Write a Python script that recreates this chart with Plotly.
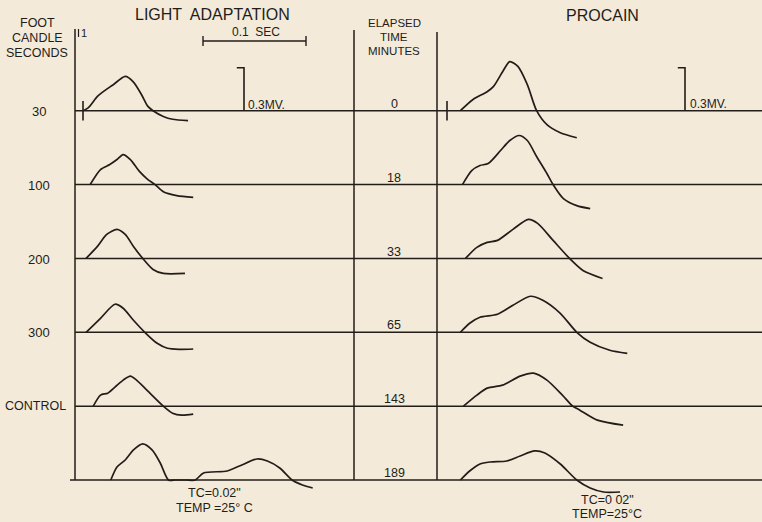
import plotly.graph_objects as go

# ---------------- data ----------------
# Row labels
fc_labels = ["30", "100", "200", "300", "CONTROL", ""]
elapsed_minutes = ["0", "18", "33", "65", "143", "189"]

# LIGHT ADAPTATION traces: time in ms after stimulus, potential in mV above baseline
la_30_t = [0, 5, 14, 19, 29, 41, 49, 57, 63, 68, 78, 87, 102]
la_30_v = [0, 0.02, 0.10, 0.13, 0.18, 0.24, 0.20, 0.11, 0.03, 0, -0.04, -0.06, -0.07]
la_100_t = [7, 17, 26, 33, 39, 46, 55, 63, 70, 78, 91, 107]
la_100_v = [0, 0.105, 0.14, 0.175, 0.21, 0.175, 0.09, 0.035, 0, -0.05, -0.077, -0.09]
la_200_t = [3, 14, 23, 33, 41, 49, 58, 68, 78, 99]
la_200_v = [0, 0.084, 0.168, 0.203, 0.168, 0.084, 0, -0.077, -0.105, -0.105]
la_300_t = [3, 17, 31, 39, 49, 60, 72, 82, 94, 107]
la_300_v = [0, 0.098, 0.196, 0.168, 0.084, 0, -0.077, -0.112, -0.119, -0.117]
la_ctrl_t = [10, 17, 24, 31, 39, 46, 52, 62, 78, 87, 96, 107]
la_ctrl_v = [0, 0.077, 0.091, 0.133, 0.182, 0.21, 0.182, 0.112, 0, -0.049, -0.063, -0.056]
la_last_t = [27, 33, 41, 49, 58, 67, 75, 83, 90, 100, 109, 117, 140, 152, 169, 179, 191, 203, 213, 223]
la_last_v = [0, 0.091, 0.14, 0.21, 0.252, 0.21, 0.119, 0, 0, 0, 0, 0.049, 0.063, 0.098, 0.147, 0.133, 0.084, 0, -0.035, -0.056]

# PROCAIN traces
pr_0_t = [13, 25, 39, 45, 54, 61, 69, 78, 87, 97, 110, 126]
pr_0_v = [0, 0.077, 0.133, 0.168, 0.273, 0.343, 0.308, 0.182, 0, -0.098, -0.154, -0.189]
pr_18_t = [15, 24, 32, 40, 52, 61, 70, 78, 87, 97, 103, 113, 126, 139]
pr_18_v = [0, 0.098, 0.133, 0.147, 0.238, 0.308, 0.343, 0.308, 0.196, 0.077, 0, -0.098, -0.147, -0.168]
pr_33_t = [18, 29, 39, 49, 64, 79, 88, 103, 119, 132, 151]
pr_33_v = [0, 0.077, 0.112, 0.126, 0.203, 0.273, 0.245, 0.126, 0, -0.084, -0.14]
pr_65_t = [13, 22, 32, 49, 64, 81, 93, 110, 126, 139, 158, 175]
pr_65_v = [0, 0.063, 0.105, 0.126, 0.189, 0.252, 0.224, 0.133, 0, -0.07, -0.126, -0.147]
pr_143_t = [16, 29, 39, 54, 71, 84, 97, 112, 122, 129, 146, 171]
pr_143_v = [0, 0.077, 0.126, 0.147, 0.21, 0.231, 0.182, 0.077, 0, -0.028, -0.098, -0.133]
pr_189_t = [13, 22, 32, 42, 58, 71, 85, 95, 110, 126, 139, 152, 168]
pr_189_v = [0, 0.063, 0.112, 0.126, 0.133, 0.168, 0.203, 0.189, 0.112, 0, -0.056, -0.084, -0.084]

# calibration
time_bar_ms = 100      # 0.1 SEC
volt_bar_mv = 0.3      # 0.3 MV.

# ---------------- layout constants ----------------
W, H = 762, 522
PX_PER_MS = 1.03
PX_PER_MV = 143.0
ORIGIN_L_PX = 83          # stimulus of the left panel
ORIGIN_R_PX = 447         # stimulus of the right panel
BOTTOM_BASE_PX = 480
ROW_GAP_MV = 0.5165
RIGHT_OFFSET = (ORIGIN_R_PX - ORIGIN_L_PX) / PX_PER_MS

INK = "#231d19"
BG = "#f4ead9"
FONT = "Liberation Sans"

def xpx(px):
    return (px - ORIGIN_L_PX) / PX_PER_MS

def ypx(py):
    return (BOTTOM_BASE_PX - py) / PX_PER_MV

def row_base(i):
    return (5 - i) * ROW_GAP_MV

left_traces = [(la_30_t, la_30_v), (la_100_t, la_100_v), (la_200_t, la_200_v),
               (la_300_t, la_300_v), (la_ctrl_t, la_ctrl_v), (la_last_t, la_last_v)]
right_traces = [(pr_0_t, pr_0_v), (pr_18_t, pr_18_v), (pr_33_t, pr_33_v),
                (pr_65_t, pr_65_v), (pr_143_t, pr_143_v), (pr_189_t, pr_189_v)]

fig = go.Figure()

line_style = dict(color=INK, width=1.7, shape="spline", smoothing=0.75)

for i, (t, v) in enumerate(left_traces):
    b = row_base(i)
    fig.add_trace(go.Scatter(x=t, y=[b + val for val in v], mode="lines",
                             line=line_style, hoverinfo="skip"))
for i, (t, v) in enumerate(right_traces):
    b = row_base(i)
    fig.add_trace(go.Scatter(x=[RIGHT_OFFSET + tt for tt in t], y=[b + val for val in v],
                             mode="lines", line=line_style, hoverinfo="skip"))

# stimulus ticks on the top row
fig.add_trace(go.Scatter(x=[0, RIGHT_OFFSET], y=[row_base(0), row_base(0)], mode="markers",
                         marker=dict(symbol="line-ns", size=14, line=dict(color=INK, width=1.6)),
                         hoverinfo="skip"))

# time calibration bar
tb_x0 = xpx(203)
tb_y = ypx(41)
fig.add_trace(go.Scatter(x=[tb_x0, tb_x0 + time_bar_ms], y=[tb_y, tb_y], mode="lines+markers",
                         line=dict(color=INK, width=1.4),
                         marker=dict(symbol="line-ns", size=7, line=dict(color=INK, width=1.4)),
                         hoverinfo="skip"))

# voltage calibration bars
for xb in (xpx(244), xpx(685)):
    y0 = row_base(0)
    fig.add_trace(go.Scatter(x=[xb - 7, xb, xb], y=[y0 + volt_bar_mv, y0 + volt_bar_mv, y0],
                             mode="lines", line=dict(color=INK, width=1.6), hoverinfo="skip"))

# ---------------- frame lines ----------------
shapes = []
for i in range(6):
    b = row_base(i)
    x0 = xpx(70) if i == 5 else xpx(75)
    shapes.append(dict(type="line", x0=x0, x1=xpx(762), y0=b, y1=b,
                       line=dict(color=INK, width=1.5)))
for px, top in ((75, 29), (354, 30), (437, 32)):
    shapes.append(dict(type="line", x0=xpx(px), x1=xpx(px), y0=ypx(top), y1=row_base(5),
                       line=dict(color=INK, width=1.5)))
shapes.append(dict(type="line", x0=xpx(78.5), x1=xpx(78.5), y0=ypx(29), y1=ypx(37),
                   line=dict(color=INK, width=1.2)))

# ---------------- text ----------------
ann = []
def txt(px, py, s, size, anchor="center", yanchor="middle"):
    ann.append(dict(x=px / W, y=1 - py / H, xref="paper", yref="paper", text=s,
                    showarrow=False, xanchor=anchor, yanchor=yanchor,
                    font=dict(family=FONT, size=size, color=INK)))

txt(212, 14, "LIGHT  ADAPTATION", 16)
txt(602, 15, "PROCAIN", 16)
txt(37, 23, "FOOT", 12.5)
txt(37, 38, "CANDLE", 12.5)
txt(37, 53, "SECONDS", 12.5)
txt(394, 23, "ELAPSED", 11.5)
txt(394, 37, "TIME", 11.5)
txt(394, 51, "MINUTES", 11.5)
txt(256, 32, "0.1  SEC", 12)
txt(84, 33, "1", 11)
txt(246, 105, "0.3MV.", 12, anchor="left")
txt(688, 104, "0.3MV.", 12, anchor="left")

base_px = [111, 185, 259, 332, 406, 480]
for i, lab in enumerate(fc_labels):
    if lab:
        if lab == "CONTROL":
            txt(68, base_px[i], lab, 12.5, anchor="right")
        else:
            txt(39, base_px[i], lab, 13)
for i, lab in enumerate(elapsed_minutes):
    txt(394, base_px[i] - 7, lab, 12.5)

txt(214, 493, "TC=0.02\"", 12.5)
txt(214, 508, "TEMP =25° C", 12.5)
txt(607, 500, "TC=0 02\"", 12.5)
txt(607, 514, "TEMP=25°C", 12.5)

fig.update_layout(
    width=W, height=H, margin=dict(l=0, r=0, t=0, b=0),
    paper_bgcolor=BG, plot_bgcolor=BG, showlegend=False,
    xaxis=dict(range=[xpx(0), xpx(W)], visible=False, fixedrange=True),
    yaxis=dict(range=[ypx(H), ypx(0)], visible=False, fixedrange=True),
    shapes=shapes, annotations=ann,
)

fig.write_html("out.html", config={"displayModeBar": False},
               post_script="document.body.style.margin='0';document.body.style.overflow='hidden';"
                           "document.body.style.background='" + BG + "';")
